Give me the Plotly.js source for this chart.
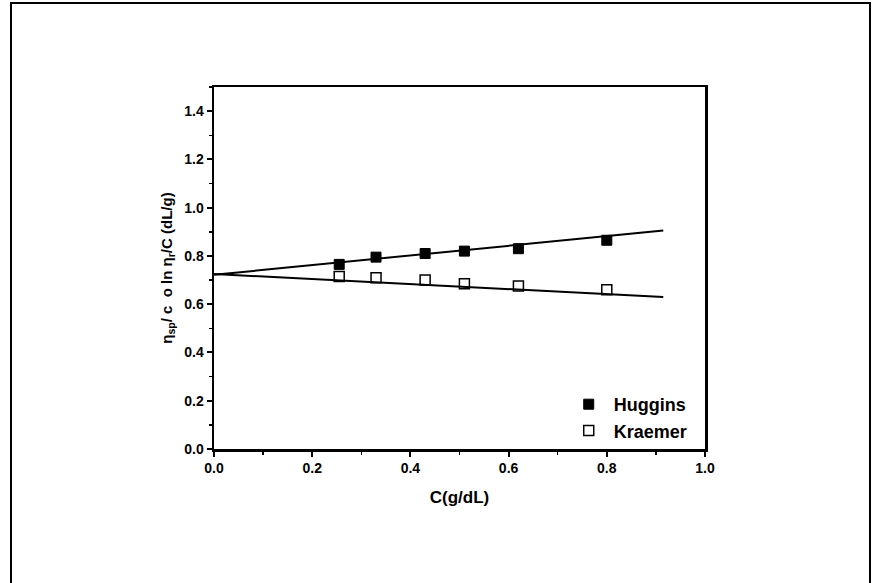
<!DOCTYPE html>
<html>
<head>
<meta charset="utf-8">
<script src="https://cdn.plot.ly/plotly-3.0.1.min.js"></script>
<style>
html,body{margin:0;padding:0;background:#fff;}
#wrap{position:absolute;left:0;top:0;width:872px;height:583px;overflow:hidden;}
#frame{position:absolute;left:10px;top:2px;width:857px;height:600px;border-left:2px solid #000;border-top:2px solid #000;border-right:2px solid #000;pointer-events:none;}
#chart{position:absolute;left:0;top:0;width:872px;height:583px;}
</style>
</head>
<body>
<div id="wrap"><div id="chart"></div><div id="frame"></div></div>
<script>
// Data
const concentration = [0.255, 0.33, 0.43, 0.51, 0.62, 0.80];
const huggins = [0.765, 0.795, 0.810, 0.820, 0.830, 0.865];
const kraemer = [0.715, 0.710, 0.700, 0.685, 0.675, 0.660];
const fitX = [0, 0.915];
const hugginsFit = [0.722, 0.905];
const kraemerFit = [0.725, 0.630];
const seriesNames = ['Huggins', 'Kraemer'];
const xTitle = 'C(g/dL)';
const yTitle = '\u03b7<sub>sp</sub>/ c  o ln \u03b7<sub>r</sub>/C (dL/g)';

const fontFam = 'Liberation Sans, Arial, sans-serif';

const traces = [
  {x: concentration, y: huggins, mode: 'markers', type: 'scatter', name: seriesNames[0],
   marker: {symbol: 'square', size: 10, color: '#000', line: {color: '#000', width: 1}}},
  {x: concentration, y: kraemer, mode: 'markers', type: 'scatter', name: seriesNames[1],
   marker: {symbol: 'square-open', size: 10, color: '#000', line: {color: '#000', width: 1.5}}},
  {x: fitX, y: hugginsFit, mode: 'lines', type: 'scatter', showlegend: false,
   line: {color: '#000', width: 2}},
  {x: fitX, y: kraemerFit, mode: 'lines', type: 'scatter', showlegend: false,
   line: {color: '#000', width: 2}}
];

const axisCommon = {
  showgrid: false, zeroline: false, showline: true, linecolor: '#000', linewidth: 2.5,
  mirror: true, ticks: 'outside', ticklen: 5, tickwidth: 2, tickcolor: '#000',
  tickfont: {family: fontFam, size: 14, color: '#000', weight: 'bold'},
  tickformat: '.1f'
};

const layout = {
  width: 872, height: 583,
  margin: {l: 214, r: 167, t: 87, b: 134},
  paper_bgcolor: 'rgba(0,0,0,0)', plot_bgcolor: '#fff',
  showlegend: true,
  legend: {x: 0.975, y: 0.0, xanchor: 'right', yanchor: 'bottom', bgcolor: 'rgba(0,0,0,0)',
           font: {family: fontFam, size: 18, color: '#000', weight: 'bold'}, itemwidth: 40, tracegroupgap: 0},
  xaxis: Object.assign({}, axisCommon, {
    range: [0, 1.0], dtick: 0.2, tick0: 0,
    minor: {dtick: 0.1, ticklen: 3, tickwidth: 1.5, tickcolor: '#000', ticks: 'outside'},
    title: {text: xTitle, font: {family: fontFam, size: 17, color: '#000', weight: 'bold'}, standoff: 16}
  }),
  yaxis: Object.assign({}, axisCommon, {
    range: [0, 1.5], dtick: 0.2, tick0: 0,
    minor: {dtick: 0.1, ticklen: 3, tickwidth: 1.5, tickcolor: '#000', ticks: 'outside'},
    title: {text: yTitle, font: {family: fontFam, size: 15, color: '#000', weight: 'bold'}, standoff: 8}
  })
};

Plotly.newPlot('chart', traces, layout, {staticPlot: true, displayModeBar: false});
</script>
</body>
</html>
